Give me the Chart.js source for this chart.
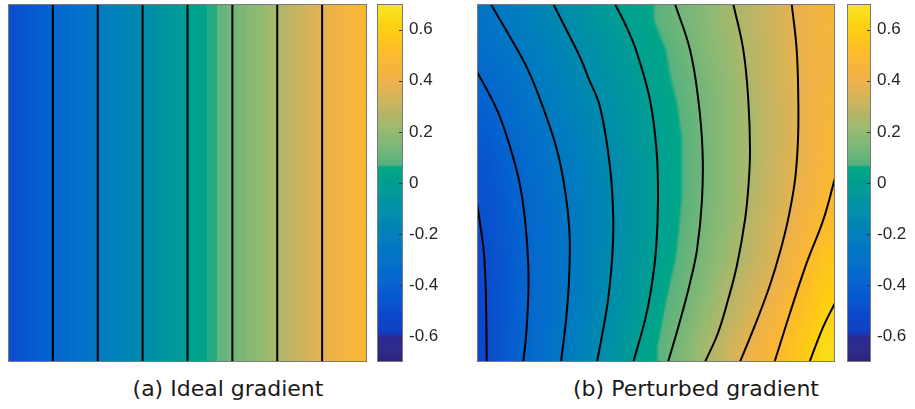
<!DOCTYPE html>
<html>
<head>
<meta charset="utf-8">
<script src="https://cdn.jsdelivr.net/npm/chart.js@4.4.1/dist/chart.umd.min.js"></script>
<style>
  body { margin: 0; background: #fff; width: 915px; height: 409px; position: relative; overflow: hidden; }
  .box { position: absolute; }
  .cap { position: absolute; top: 378px; font: 22px "DejaVu Sans", sans-serif; line-height: 22px; color: #1a1a1a;
         white-space: nowrap; transform: translateX(-50%); }
</style>
</head>
<body>
<div class="box" style="left:8px;top:4px;width:359px;height:358px"><canvas id="mapA"></canvas></div>
<div class="box" style="left:377px;top:4px;width:70px;height:358px"><canvas id="barA"></canvas></div>
<div class="box" style="left:477px;top:4px;width:358px;height:358px"><canvas id="mapB"></canvas></div>
<div class="box" style="left:847px;top:4px;width:68px;height:358px"><canvas id="barB"></canvas></div>
<div class="cap" id="capA" style="left:228px"></div>
<div class="cap" id="capB" style="left:696px"></div>
<script>
// ---- data ----
const captions = ['(a) Ideal gradient', '(b) Perturbed gradient'];

// colour bar
const cbRange = [-0.7, 0.7];
const cbTicks = [-0.6, -0.4, -0.2, 0, 0.2, 0.4, 0.6];
const cbLabels = ['-0.6', '-0.4', '-0.2', '0', '0.2', '0.4', '0.6'];

// (a) ideal gradient: value per column, left to right
const columnsA = [-0.486, -0.458, -0.431, -0.403, -0.375, -0.347, -0.319, -0.292, -0.264, -0.236, -0.208, -0.181,
                  -0.153, -0.125, -0.097, -0.069, -0.042, -0.014, 0.014, 0.042, 0.069, 0.097, 0.125, 0.153,
                  0.181, 0.208, 0.236, 0.264, 0.292, 0.319, 0.347, 0.375, 0.403, 0.431, 0.458, 0.486];
const levelsA = [-0.375, -0.25, -0.125, 0, 0.125, 0.25, 0.375];

// (b) perturbed gradient: rows top to bottom, columns left to right
const valuesB = [
  [-0.28,-0.24,-0.20,-0.16,-0.12,-0.07,-0.03, 0.01, 0.05, 0.10, 0.14, 0.18, 0.23, 0.27, 0.31, 0.36, 0.40, 0.45],
  [-0.31,-0.27,-0.23,-0.19,-0.15,-0.10,-0.06,-0.02, 0.03, 0.07, 0.12, 0.17, 0.21, 0.26, 0.30, 0.35, 0.40, 0.44],
  [-0.36,-0.31,-0.26,-0.21,-0.17,-0.13,-0.08,-0.04, 0.01, 0.06, 0.10, 0.15, 0.20, 0.25, 0.30, 0.35, 0.39, 0.44],
  [-0.40,-0.35,-0.29,-0.24,-0.19,-0.15,-0.10,-0.06,-0.01, 0.04, 0.09, 0.14, 0.19, 0.24, 0.29, 0.34, 0.39, 0.45],
  [-0.43,-0.38,-0.32,-0.27,-0.22,-0.17,-0.12,-0.07,-0.02, 0.03, 0.08, 0.14, 0.19, 0.24, 0.29, 0.34, 0.40, 0.46],
  [-0.46,-0.40,-0.35,-0.29,-0.24,-0.19,-0.14,-0.08,-0.03, 0.03, 0.08, 0.13, 0.19, 0.24, 0.29, 0.35, 0.40, 0.47],
  [-0.47,-0.42,-0.36,-0.31,-0.25,-0.20,-0.15,-0.09,-0.03, 0.03, 0.08, 0.14, 0.19, 0.25, 0.30, 0.36, 0.42, 0.49],
  [-0.48,-0.43,-0.37,-0.32,-0.26,-0.20,-0.15,-0.09,-0.03, 0.03, 0.09, 0.15, 0.20, 0.26, 0.32, 0.37, 0.45, 0.52],
  [-0.49,-0.44,-0.38,-0.32,-0.26,-0.20,-0.14,-0.08,-0.02, 0.04, 0.10, 0.16, 0.22, 0.27, 0.33, 0.40, 0.49, 0.56],
  [-0.50,-0.44,-0.38,-0.32,-0.26,-0.20,-0.13,-0.07,-0.01, 0.06, 0.12, 0.18, 0.25, 0.30, 0.36, 0.44, 0.52, 0.59],
  [-0.50,-0.44,-0.38,-0.32,-0.25,-0.19,-0.12,-0.06, 0.01, 0.08, 0.14, 0.21, 0.27, 0.33, 0.40, 0.49, 0.55, 0.62],
  [-0.50,-0.43,-0.37,-0.30,-0.24,-0.17,-0.10,-0.04, 0.03, 0.10, 0.17, 0.24, 0.31, 0.38, 0.45, 0.52, 0.59, 0.66]
];

// (b) contour lines, [x, y] in the unit square (y up)
const lineBm500 = [[0,0.444],[0.0176,0.322],[0.0223,0.257],[0.0251,0.182],[0.0271,0]];
const lineBm375 = [[0,0.811],[0.0559,0.704],[0.0922,0.601],[0.1201,0.494],[0.1369,0.369],[0.1439,0.229],[0.1383,0.089],[0.1293,0]];
const lineBm250 = [[0.0383,1],[0.0894,0.913],[0.1425,0.816],[0.1899,0.696],[0.2235,0.592],[0.2458,0.480],[0.2584,0.360],[0.2570,0.229],[0.2486,0.117],[0.2346,0]];
const lineBm125 = [[0.2131,1],[0.2542,0.919],[0.2877,0.852],[0.3101,0.796],[0.3436,0.712],[0.3715,0.545],[0.3807,0.397],[0.3771,0.285],[0.3659,0.173],[0.3520,0.089],[0.3352,0]];
const lineB000 = [[0.3855,1],[0.4218,0.927],[0.4469,0.863],[0.4832,0.732],[0.5014,0.592],[0.5056,0.453],[0.5,0.313],[0.4860,0.201],[0.4693,0.117],[0.4366,0]];
const lineB125 = [[0.5531,1],[0.5950,0.872],[0.6182,0.732],[0.6299,0.592],[0.6285,0.453],[0.6145,0.313],[0.5950,0.221],[0.5754,0.145],[0.5559,0.0754],[0.5335,0]];
const lineB250 = [[0.7159,1],[0.7439,0.872],[0.7578,0.732],[0.7626,0.592],[0.7584,0.494],[0.7486,0.397],[0.7263,0.271],[0.7011,0.173],[0.6732,0.081],[0.6369,0]];
const lineB375 = [[0.8791,1],[0.8930,0.872],[0.8975,0.732],[0.8966,0.620],[0.8883,0.508],[0.8687,0.397],[0.8464,0.307],[0.8184,0.215],[0.7821,0.117],[0.7346,0]];
const lineB500 = [[1,0.514],[0.9673,0.397],[0.9209,0.277],[0.8743,0.137],[0.8310,0]];
const lineB625 = [[1,0.165],[0.9673,0.0986],[0.9288,0]];

// ---- colour map (parula-like, as rendered in the picture) ----
const cmapStops = [
  [-0.70, 45, 35, 125], [-0.595, 45, 45, 150], [-0.585, 15, 60, 195], [-0.50, 10, 75, 205],
  [-0.40, 5, 97, 207], [-0.30, 3, 112, 200], [-0.20, 0, 127, 188], [-0.10, 0, 142, 168],
  [0.00, 0, 158, 146], [0.065, 0, 166, 134], [0.075, 90, 178, 125], [0.20, 145, 186, 115],
  [0.30, 196, 180, 98], [0.40, 238, 178, 74], [0.50, 252, 184, 48], [0.60, 253, 205, 18], [0.70, 249, 230, 28]
];
function cmapRGB(v) {
  if (v <= cmapStops[0][0]) v = cmapStops[0][0];
  for (let k = 1; k < cmapStops.length; k++) {
    const a = cmapStops[k - 1], b = cmapStops[k];
    if (v <= b[0] || k === cmapStops.length - 1) {
      const t = Math.min(1, Math.max(0, (v - a[0]) / (b[0] - a[0])));
      return [1, 2, 3].map(n => Math.round(a[n] + (b[n] - a[n]) * t));
    }
  }
}
const cmap = v => 'rgb(' + cmapRGB(v).join(',') + ')';

const BORDER = '#7a7a7a';

function drawBorder(chart) {
  const { ctx, chartArea: a } = chart;
  ctx.save();
  ctx.strokeStyle = BORDER;
  ctx.lineWidth = 1;
  ctx.strokeRect(a.left + 0.5, a.top + 0.5, a.width - 1, a.height - 1);
  ctx.restore();
}

// flat cells (panel a)
function heatmap(rows, xr, yr) {
  return {
    id: 'heatmap',
    beforeDatasetsDraw(chart) {
      const { ctx, scales: { x, y } } = chart;
      const nr = rows.length, nc = rows[0].length;
      ctx.save();
      for (let j = 0; j < nr; j++) {
        for (let i = 0; i < nc; i++) {
          const px0 = Math.floor(x.getPixelForValue(xr[0] + (xr[1] - xr[0]) * i / nc));
          const px1 = Math.ceil(x.getPixelForValue(xr[0] + (xr[1] - xr[0]) * (i + 1) / nc));
          const py0 = Math.floor(y.getPixelForValue(yr[1] - (yr[1] - yr[0]) * j / nr));
          const py1 = Math.ceil(y.getPixelForValue(yr[1] - (yr[1] - yr[0]) * (j + 1) / nr));
          ctx.fillStyle = cmap(rows[j][i]);
          ctx.fillRect(px0, py0, px1 - px0, py1 - py0);
        }
      }
      ctx.restore();
    },
    afterDraw: drawBorder
  };
}

// interpolated shading between cell centres (panel b)
function smoothHeatmap(rows, xr, yr) {
  return {
    id: 'smoothHeatmap',
    beforeDatasetsDraw(chart) {
      const { ctx, chartArea: a, scales: { x, y } } = chart;
      const nr = rows.length, nc = rows[0].length;
      const L = Math.round(a.left), T = Math.round(a.top);
      const W = Math.round(a.right) - L, H = Math.round(a.bottom) - T;
      const img = ctx.createImageData(W, H);
      for (let py = 0; py < H; py++) {
        const vy = y.getValueForPixel(T + py + 0.5);
        let fy = (yr[1] - vy) / (yr[1] - yr[0]) * nr - 0.5;
        fy = Math.min(nr - 1, Math.max(0, fy));
        const j0 = Math.floor(fy), j1 = Math.min(j0 + 1, nr - 1), ty = fy - j0;
        for (let px = 0; px < W; px++) {
          const vx = x.getValueForPixel(L + px + 0.5);
          let fx = (vx - xr[0]) / (xr[1] - xr[0]) * nc - 0.5;
          fx = Math.min(nc - 1, Math.max(0, fx));
          const i0 = Math.floor(fx), i1 = Math.min(i0 + 1, nc - 1), tx = fx - i0;
          const top = rows[j0][i0] * (1 - tx) + rows[j0][i1] * tx;
          const bot = rows[j1][i0] * (1 - tx) + rows[j1][i1] * tx;
          const c = cmapRGB(top * (1 - ty) + bot * ty);
          const o = (py * W + px) * 4;
          img.data[o] = c[0]; img.data[o + 1] = c[1]; img.data[o + 2] = c[2]; img.data[o + 3] = 255;
        }
      }
      ctx.putImageData(img, L, T);
    },
    afterDraw: drawBorder
  };
}

const colorbar = {
  id: 'colorbar',
  beforeDatasetsDraw(chart) {
    const { ctx, chartArea: a, scales: { y } } = chart;
    ctx.save();
    const step = 0.002;
    for (let v = cbRange[0]; v < cbRange[1]; v += step) {
      const p0 = y.getPixelForValue(v), p1 = y.getPixelForValue(Math.min(v + step, cbRange[1]));
      ctx.fillStyle = cmap(v + step / 2);
      ctx.fillRect(a.left, p1, a.width, p0 - p1 + 0.6);
    }
    ctx.strokeStyle = '#333';
    ctx.lineWidth = 1;
    cbTicks.forEach(v => {
      const py = Math.round(y.getPixelForValue(v)) + 0.5;
      ctx.beginPath();
      ctx.moveTo(a.right - 4, py);
      ctx.lineTo(a.right, py);
      ctx.stroke();
    });
    ctx.restore();
    drawBorder(chart);
  }
};

function lineSet(pts) {
  return {
    data: pts.map(([x, y]) => ({ x, y })),
    showLine: true, pointRadius: 0, borderColor: '#000', borderWidth: 2, tension: 0.4, fill: false
  };
}

const common = {
  responsive: true, maintainAspectRatio: false, animation: false, events: [],
  layout: { padding: 0 },
  plugins: { legend: { display: false }, tooltip: { enabled: false } }
};

new Chart(document.getElementById('mapA'), {
  type: 'scatter',
  data: { datasets: levelsA.map(L => lineSet([[L, 0], [L, 1]])) },
  options: { ...common, scales: {
    x: { type: 'linear', min: -0.5, max: 0.5, display: false },
    y: { type: 'linear', min: 0, max: 1, display: false } } },
  plugins: [heatmap([columnsA], [-0.5, 0.5], [0, 1])]
});

new Chart(document.getElementById('mapB'), {
  type: 'scatter',
  data: { datasets: [lineBm500, lineBm375, lineBm250, lineBm125, lineB000, lineB125, lineB250, lineB375, lineB500, lineB625].map(lineSet) },
  options: { ...common, scales: {
    x: { type: 'linear', min: 0, max: 1, display: false },
    y: { type: 'linear', min: 0, max: 1, display: false } } },
  plugins: [smoothHeatmap(valuesB, [0, 1], [0, 1])]
});

function makeBar(id) {
  new Chart(document.getElementById(id), {
    type: 'scatter',
    data: { datasets: [] },
    options: { ...common, scales: {
      x: { type: 'linear', min: 0, max: 1, display: false },
      y: { type: 'linear', position: 'right', min: cbRange[0], max: cbRange[1],
           afterBuildTicks: s => { s.ticks = cbTicks.map(v => ({ value: v })); },
           afterFit: s => { s.width = 44; s.paddingTop = 0; s.paddingBottom = 0; },
           grid: { display: false, drawTicks: false }, border: { display: false },
           ticks: { padding: 6, color: '#262626', font: { family: 'Liberation Sans', size: 17 },
                    callback: v => cbLabels[cbTicks.indexOf(v)] } } } },
    plugins: [colorbar]
  });
}
makeBar('barA');
makeBar('barB');

document.getElementById('capA').textContent = captions[0];
document.getElementById('capB').textContent = captions[1];
</script>
</body>
</html>
